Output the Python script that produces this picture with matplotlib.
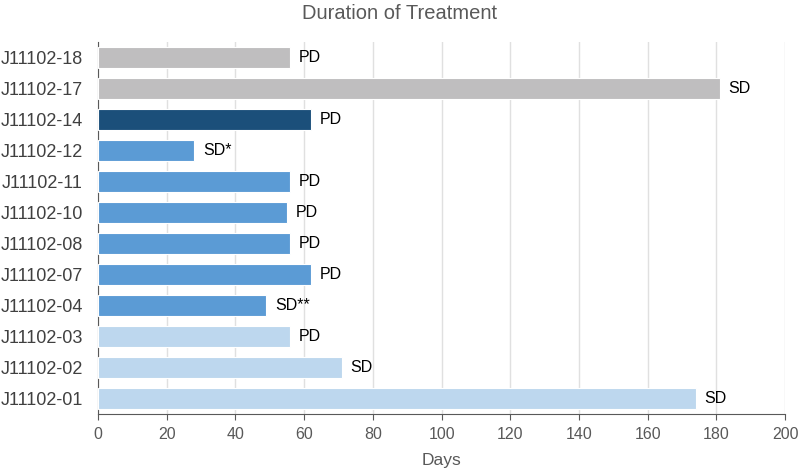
import matplotlib
matplotlib.use("Agg")
import matplotlib.pyplot as plt

plt.rcParams['font.family'] = ['Liberation Sans', 'DejaVu Sans']

# データ（上から順）
patients = ["J11102-18", "J11102-17", "J11102-14", "J11102-12", "J11102-11", "J11102-10",
            "J11102-08", "J11102-07", "J11102-04", "J11102-03", "J11102-02", "J11102-01"]
days = [56, 181, 62, 28, 56, 55, 56, 62, 49, 56, 71, 174]
response = ["PD", "SD", "PD", "SD*", "PD", "PD", "PD", "PD", "SD**", "PD", "SD", "SD"]
group = ["grey", "grey", "dark", "mid", "mid", "mid", "mid", "mid", "mid", "light", "light", "light"]

palette = {"grey": "#bfbebf", "dark": "#1b4f7a", "mid": "#5b9bd5", "light": "#bdd7ee"}

fig = plt.figure(figsize=(8, 4.7), dpi=100)
ax = fig.add_axes([0.1225, 0.119, 0.859, 0.792])

y = list(range(len(patients)))
colors = [palette[g] for g in group]
ax.barh(y, days, height=0.66, color=colors, edgecolor="white", linewidth=0.8, zorder=3)

for yi, d, r in zip(y, days, response):
    ax.text(d + 2.5, yi, r, va="center", ha="left", fontsize=11.5, color="black", zorder=4)

ax.set_ylim(len(patients) - 0.5, -0.5)
ax.set_yticks(y)
ax.set_yticklabels(patients)
ax.set_xlim(0, 200)
ax.set_xticks(range(0, 201, 20))

ax.grid(axis="x", color="#e0e0e0", linewidth=1, zorder=0)
for s in ["top", "right"]:
    ax.spines[s].set_visible(False)
ax.spines["left"].set_color("#595959")
ax.spines["bottom"].set_color("#595959")
ax.tick_params(axis="y", length=0, labelsize=13, labelcolor="#404040", pad=11)
ax.tick_params(axis="x", length=4, color="#595959", labelsize=11.5, labelcolor="#595959", pad=5)

ax.set_xlabel("Days", fontsize=12.5, color="#595959", labelpad=8)
fig.text(0.5, 0.972, "Duration of Treatment", ha="center", va="center", fontsize=14.5, color="#595959")

fig.savefig("out.png", dpi=100)
